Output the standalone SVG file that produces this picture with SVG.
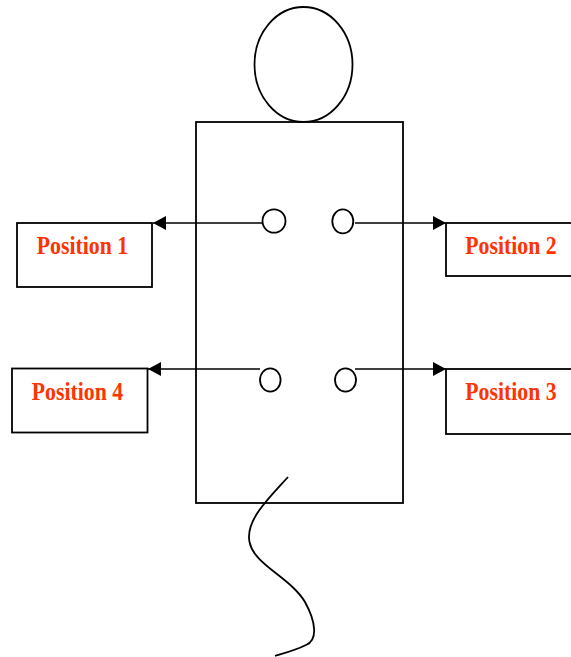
<svg xmlns="http://www.w3.org/2000/svg" width="571" height="657" viewBox="0 0 571 657">
  <style>
    .line { fill: none; stroke: #000; stroke-width: 1.8; }
    .conn { fill: none; stroke: #000; stroke-width: 1.5; }
    .box { fill: #fff; stroke: #000; stroke-width: 1.8; }
    .label { font-family: "Liberation Serif", "Times New Roman", serif; font-weight: bold; font-size: 21.8px; fill: #FF3300; text-anchor: middle; }
  </style>
  <defs>
    <marker id="arrow" viewBox="0 0 13 14" refX="13" refY="7" markerWidth="13" markerHeight="14" markerUnits="userSpaceOnUse" orient="auto">
      <path d="M0,0 L13,7 L0,14 Z" fill="#000"/>
    </marker>
  </defs>

  <rect width="571" height="657" fill="#fff"/>

  <!-- figure: head, torso, cord -->
  <g id="figure">
    <ellipse cx="303.5" cy="64.5" rx="49" ry="57.5" class="line"/>
    <rect x="196" y="122" width="207" height="381" class="line"/>
    <path class="line" d="M288,477 C270,497 245,520 249.5,542 C254,565 290,577 305,602 C316,622 318,640 306,645 C296,650 285,653 275,656"/>
  </g>

  <!-- sensor points on the torso -->
  <g id="point-1"><ellipse cx="274" cy="221" rx="11.5" ry="11.7" class="line"/></g>
  <g id="point-2"><ellipse cx="342.8" cy="221.3" rx="10.5" ry="12" class="line"/></g>
  <g id="point-3"><ellipse cx="345.5" cy="380" rx="10.5" ry="11.7" class="line"/></g>
  <g id="point-4"><ellipse cx="270.3" cy="380" rx="10.3" ry="11.7" class="line"/></g>

  <!-- position boxes -->
  <g id="position-1">
    <rect x="17" y="223" width="135" height="64" class="box"/>
    <text class="label" transform="translate(82.5,254) scale(1,1.12)">Position 1</text>
  </g>
  <g id="position-2">
    <rect x="446" y="223" width="140" height="53" class="box"/>
    <text class="label" transform="translate(511,254) scale(1,1.12)">Position 2</text>
  </g>
  <g id="position-3">
    <rect x="446" y="369" width="140" height="65" class="box"/>
    <text class="label" transform="translate(511,400) scale(1,1.12)">Position 3</text>
  </g>
  <g id="position-4">
    <rect x="12" y="368.5" width="135.5" height="64" class="box"/>
    <text class="label" transform="translate(77.5,399.5) scale(1,1.12)">Position 4</text>
  </g>

  <!-- connectors -->
  <g id="connectors">
    <line x1="262.5" y1="223" x2="153" y2="223" class="conn" marker-end="url(#arrow)"/>
    <line x1="355" y1="223" x2="446" y2="223" class="conn" marker-end="url(#arrow)"/>
    <line x1="355" y1="369" x2="446" y2="369" class="conn" marker-end="url(#arrow)"/>
    <line x1="260" y1="369" x2="148" y2="369" class="conn" marker-end="url(#arrow)"/>
  </g>
</svg>
